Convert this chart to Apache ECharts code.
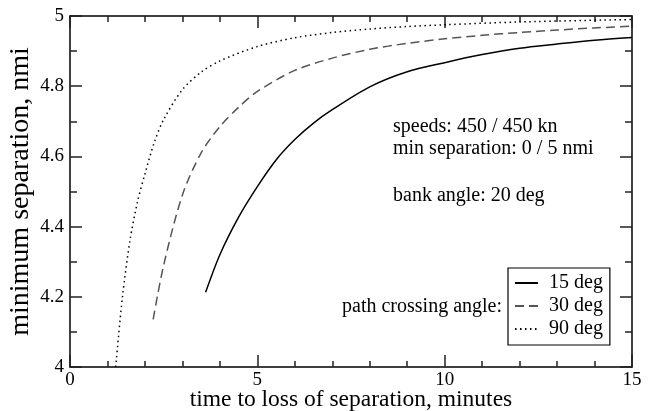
<!DOCTYPE html>
<html>
<head>
<meta charset="utf-8">
<script src="https://cdn.jsdelivr.net/npm/echarts@6/dist/echarts.min.js"></script>
<style>
  html, body { margin: 0; padding: 0; background: #fff; }
  #main { width: 652px; height: 411px; }
</style>
</head>
<body>
<div id="main"></div>
<script>
// data: [minutes, nmi]
var deg15 = [[3.62, 4.213], [4.0, 4.32], [4.5, 4.427], [5, 4.514], [5.5, 4.590], [6, 4.648], [6.5, 4.695],
  [7, 4.733], [8, 4.798], [9, 4.841], [10, 4.867], [11, 4.890], [12, 4.908], [13, 4.920], [14, 4.931], [15, 4.939]];
var deg30 = [[2.22, 4.136], [2.5, 4.29], [3, 4.49], [3.5, 4.61], [4, 4.685], [4.5, 4.74], [5, 4.785],
  [6, 4.845], [7, 4.880], [8, 4.905], [9, 4.922], [10, 4.935], [11, 4.945], [12, 4.953],
  [13, 4.960], [14, 4.966], [15, 4.971]];
var deg90 = [[1.22, 4.0], [1.4, 4.2], [1.6, 4.36], [1.8, 4.47], [2.0, 4.55], [2.25, 4.64], [2.5, 4.705],
  [3, 4.79], [3.5, 4.84], [4, 4.872], [5, 4.913], [6, 4.938], [7, 4.953], [8, 4.963], [9, 4.970],
  [10, 4.975], [12, 4.983], [15, 4.990]];
var seriesNames = ['15 deg', '30 deg', '90 deg'];
var notes = ['speeds: 450 / 450 kn', 'min separation: 0 / 5 nmi', 'bank angle: 20 deg', 'path crossing angle:'];

var FONT = "'Liberation Serif', 'DejaVu Serif', serif";

var chart = echarts.init(document.getElementById('main'));

function axisBase(extra) {
  var a = {
    axisLine: { show: true, onZero: false, lineStyle: { color: '#000', width: 1.5 } },
    axisTick: { show: true, inside: true, length: 12, lineStyle: { color: '#222', width: 1.5 } },
    minorTick: { show: true, splitNumber: 2, length: 7, lineStyle: { color: '#222', width: 1.5 } },
    splitLine: { show: false },
    axisLabel: { color: '#000', fontFamily: FONT, fontSize: 19 }
  };
  return Object.assign(a, extra);
}

chart.setOption({
  animation: false,
  backgroundColor: '#fff',
  grid: { left: 70, right: 20, top: 16, bottom: 44, outerBoundsMode: 'none', containLabel: false },
  xAxis: [
    axisBase({
      type: 'value', min: 0, max: 15, interval: 5,
      minorTick: { show: true, splitNumber: 5, length: 6, lineStyle: { color: '#222', width: 1.5 } },
      axisLabel: { color: '#000', fontFamily: FONT, fontSize: 19, margin: 4 },
      name: 'time to loss of separation, minutes', nameLocation: 'middle', nameGap: 21, nameMoveOverlap: false,
      nameTextStyle: { color: '#000', fontFamily: FONT, fontSize: 23.5 }
    }),
    axisBase({
      type: 'value', min: 0, max: 15, interval: 5, position: 'top',
      minorTick: { show: true, splitNumber: 5, length: 6, lineStyle: { color: '#222', width: 1.5 } },
      axisLabel: { show: false }
    })
  ],
  yAxis: [
    axisBase({
      type: 'value', min: 4, max: 5, interval: 0.2,
      axisLabel: { color: '#000', fontFamily: FONT, fontSize: 19, margin: 6 },
      name: 'minimum separation, nmi', nameLocation: 'middle', nameGap: 35, nameMoveOverlap: false,
      nameTextStyle: { color: '#000', fontFamily: FONT, fontSize: 28 }
    }),
    axisBase({
      type: 'value', min: 4, max: 5, interval: 0.2, position: 'right',
      axisLabel: { show: false }
    })
  ],
  legend: {
    orient: 'vertical',
    left: 508, top: 268,
    data: seriesNames,
    itemWidth: 23, itemHeight: 14, itemGap: 3,
    padding: [5, 7, 6, 6],
    borderColor: '#000', borderWidth: 1.2, borderRadius: 0,
    itemStyle: { opacity: 0 },
    textStyle: { color: '#000', fontFamily: FONT, fontSize: 20, padding: [0, 0, 0, 6] }
  },
  graphic: [
    { type: 'text', left: 393, top: 117, style: { text: notes[0], font: '20px ' + FONT, fill: '#000' } },
    { type: 'text', left: 393, top: 139, style: { text: notes[1], font: '20px ' + FONT, fill: '#000' } },
    { type: 'text', left: 393, top: 186, style: { text: notes[2], font: '20px ' + FONT, fill: '#000' } },
    { type: 'text', right: 150, top: 297, style: { text: notes[3], font: '20px ' + FONT, fill: '#000' } }
  ],
  series: [
    { name: seriesNames[0], type: 'line', data: deg15, smooth: 0.3, showSymbol: false, symbol: 'none',
      lineStyle: { color: '#000', width: 1.5, type: 'solid' }, itemStyle: { color: '#000' } },
    { name: seriesNames[1], type: 'line', data: deg30, smooth: 0.3, showSymbol: false, symbol: 'none',
      lineStyle: { color: '#555', width: 1.5, type: [9, 5] }, itemStyle: { color: '#555' } },
    { name: seriesNames[2], type: 'line', data: deg90, smooth: 0.3, showSymbol: false, symbol: 'none',
      lineStyle: { color: '#000', width: 1.5, type: [1.5, 3.5] }, itemStyle: { color: '#000' } }
  ]
});
</script>
</body>
</html>
